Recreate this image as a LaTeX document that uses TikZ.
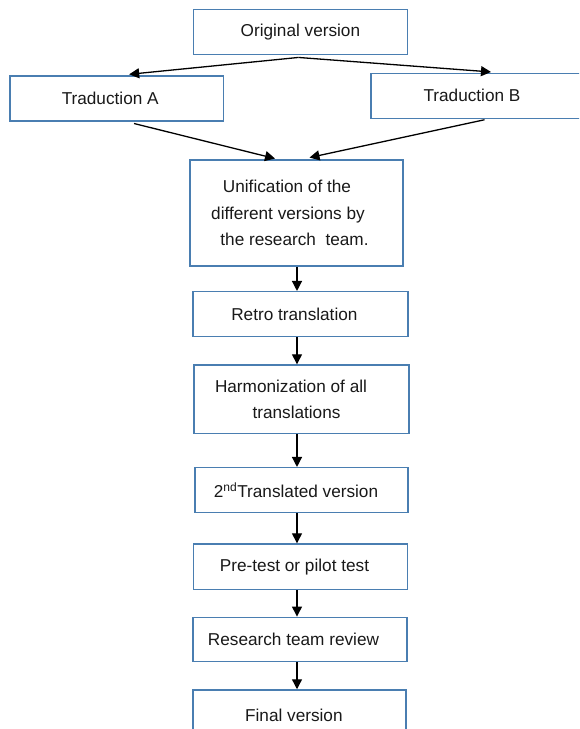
\documentclass[tikz,border=0pt]{standalone}
\usepackage{fontspec}
\setmainfont{Liberation Sans}
\usetikzlibrary{arrows.meta,calc}
\definecolor{boxblue}{RGB}{74,126,177}
\definecolor{txt}{RGB}{25,25,25}
\begin{document}
\begin{tikzpicture}[x=1pt,y=-1pt,
  box/.style={draw=boxblue,line width=1.5pt,fill=white,inner sep=0pt,align=center,text=txt,
    font=\fontsize{17.2}{26.6}\selectfont},
  arr/.style={line width=1.3pt,-{Triangle[length=10pt,width=10pt]}}]
\useasboundingbox (0,0) rectangle (579,729);
\clip (0,0) rectangle (579,729);
\fill[white] (0,0) rectangle (579,729);

\node[box,minimum width=213.8,minimum height=45] (orig) at (300.4,31.8) {Original version};
\node[box,minimum width=213.4,minimum height=44.7] (ta) at (116.7,98.4) {Traduction A\hspace*{13pt}};
\node[box,minimum width=229,minimum height=45] (tb) at (485.5,95.8) {Traduction B\hspace*{27pt}};
\node[box,minimum width=213,minimum height=106] (unif) at (296.5,213)
  {\kern-3pt Unification of the\kern16pt\\\kern-3pt different versions by\kern14pt\\\kern-3pt the research\ \ team.\kern1pt};
\node[box,minimum width=214.7,minimum height=45] (retro) at (300.4,314.2) {Retro translation\hspace*{12pt}};
\node[box,minimum width=215,minimum height=68.3] (harm) at (301.5,399.2)
  {Harmonization of all\hspace*{21pt}\\translations\hspace*{10pt}};
\node[box,minimum width=213,minimum height=45] (sec) at (301.5,490.2)
  {2\textsuperscript{nd}Translated version\hspace*{11pt}};
\node[box,minimum width=214.4,minimum height=45.3] (pre) at (300.5,566.7) {Pre-test or pilot test\hspace*{12pt}};
\node[box,minimum width=214,minimum height=44.4] (rev) at (300,639.5) {Research team review\hspace*{13pt}};
\node[box,minimum width=213.3,minimum height=50] (fin) at (299.4,715) {Final version\hspace*{11pt}};

\coordinate (ax) at (297,0);
\draw[arr] ($(orig.south)+(-2,2.4)$) -- ($(ta.north)+(12.5,-1)$);
\draw[arr] ($(orig.south)+(-2,2.4)$) -- ($(tb.north)+(5.5,-0.6)$);
\draw[arr] ($(ta.south)+(17.3,2)$) -- ($(unif.north)+(-21.5,-0.7)$);
\draw[arr] ($(tb.south)+(-1,0.7)$) -- ($(unif.north)+(13,-1.7)$);
\draw[arr] (ax |- unif.south) -- (ax |- retro.north);
\draw[arr] (ax |- retro.south) -- (ax |- harm.north);
\draw[arr] (ax |- harm.south) -- (ax |- sec.north);
\draw[arr] (ax |- sec.south) -- (ax |- pre.north);
\draw[arr] (ax |- pre.south) -- (ax |- rev.north);
\draw[arr] (ax |- rev.south) -- (ax |- fin.north);
\end{tikzpicture}
\end{document}
